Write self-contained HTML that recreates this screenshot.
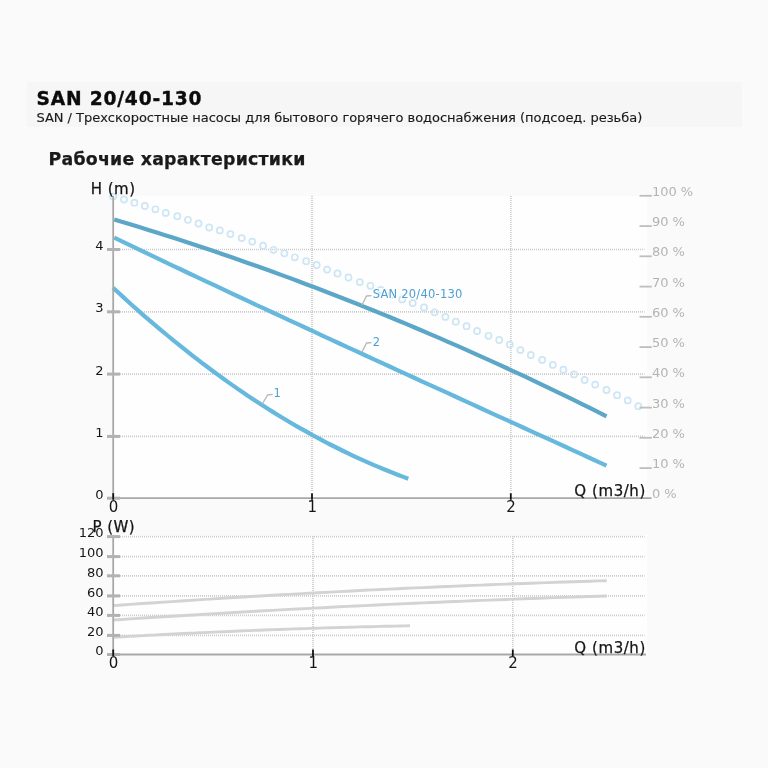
<!DOCTYPE html>
<html lang="ru">
<head>
<meta charset="utf-8">
<title>SAN 20/40-130</title>
<style>
html,body{margin:0;padding:0;}
body{width:768px;height:768px;background:#fafafa;position:relative;overflow:hidden;font-family:"DejaVu Sans", "Liberation Sans", sans-serif;color:#151515;}
.band{position:absolute;left:27px;top:82.4px;width:715px;height:44.8px;background:#f6f6f6;}
.t1{position:absolute;left:36.5px;top:87px;font-size:18.67px;line-height:24px;font-weight:bold;white-space:nowrap;letter-spacing:0.8px;color:#0c0c0c;-webkit-text-stroke:0.35px #0c0c0c;}
.t2{position:absolute;left:36.5px;top:110px;font-size:13px;line-height:16px;white-space:nowrap;color:#1a1a1a;letter-spacing:-0.03px;-webkit-text-stroke:0.15px #1a1a1a;}
.t3{position:absolute;left:48.5px;top:149.4px;font-size:17.33px;line-height:20px;font-weight:bold;white-space:nowrap;color:#1a1a1a;letter-spacing:0.25px;-webkit-text-stroke:0.25px #1a1a1a;}
</style>
</head>
<body>
<div class="band"></div>
<div class="t1" id="t1">SAN 20/40-130</div>
<div class="t2" id="t2">SAN / Трехскоростные насосы для бытового горячего водоснабжения (подсоед. резьба)</div>
<div class="t3" id="t3">Рабочие характеристики</div>
<svg width="768" height="768" viewBox="0 0 768 768" style="position:absolute;left:0;top:0">
<rect x="113" y="196" width="534" height="301.5" fill="#fefefe"/>
<rect x="113" y="535" width="534" height="119" fill="#fefefe"/>
<g stroke="#cbcbcb" stroke-width="1.7" stroke-dasharray="1 1" fill="none">
<line x1="120" y1="436.4" x2="644.6" y2="436.4"/>
<line x1="120" y1="374.1" x2="644.6" y2="374.1"/>
<line x1="120" y1="311.8" x2="644.6" y2="311.8"/>
<line x1="120" y1="249.5" x2="644.6" y2="249.5"/>
<line x1="312.0" y1="196" x2="312.0" y2="492"/>
<line x1="510.8" y1="196" x2="510.8" y2="492"/>
<line x1="120" y1="635.4" x2="644.6" y2="635.4"/>
<line x1="120" y1="615.4" x2="644.6" y2="615.4"/>
<line x1="120" y1="595.9" x2="644.6" y2="595.9"/>
<line x1="120" y1="575.8" x2="644.6" y2="575.8"/>
<line x1="120" y1="556.6" x2="644.6" y2="556.6"/>
<line x1="120" y1="536.6" x2="644.6" y2="536.6"/>
<line x1="313.0" y1="536" x2="313.0" y2="649"/>
<line x1="512.8" y1="536" x2="512.8" y2="649"/>
</g>
<g fill="none" stroke="#cde6f4" stroke-width="1.7">
<circle cx="113.1" cy="196.6" r="3.05"/>
<circle cx="124.0" cy="199.5" r="3.05"/>
<circle cx="134.4" cy="202.7" r="3.05"/>
<circle cx="144.8" cy="206.0" r="3.05"/>
<circle cx="155.4" cy="209.3" r="3.05"/>
<circle cx="165.8" cy="212.9" r="3.05"/>
<circle cx="177.3" cy="216.2" r="3.05"/>
<circle cx="187.9" cy="219.8" r="3.05"/>
<circle cx="198.5" cy="223.5" r="3.05"/>
<circle cx="209.2" cy="227.5" r="3.05"/>
<circle cx="219.8" cy="230.4" r="3.05"/>
<circle cx="230.4" cy="234.1" r="3.05"/>
<circle cx="241.7" cy="238.1" r="3.05"/>
<circle cx="252.3" cy="241.6" r="3.05"/>
<circle cx="263.1" cy="245.7" r="3.05"/>
<circle cx="273.5" cy="249.8" r="3.05"/>
<circle cx="284.4" cy="253.3" r="3.05"/>
<circle cx="294.8" cy="257.3" r="3.05"/>
<circle cx="306.2" cy="261.2" r="3.05"/>
<circle cx="316.7" cy="265.0" r="3.05"/>
<circle cx="327.1" cy="269.6" r="3.05"/>
<circle cx="337.5" cy="273.5" r="3.05"/>
<circle cx="348.5" cy="277.5" r="3.05"/>
<circle cx="359.8" cy="282.1" r="3.05"/>
<circle cx="370.4" cy="285.8" r="3.05"/>
<circle cx="380.8" cy="290.0" r="3.05"/>
<circle cx="391.5" cy="294.7" r="3.05"/>
<circle cx="402.1" cy="299.4" r="3.05"/>
<circle cx="412.7" cy="303.1" r="3.05"/>
<circle cx="424.0" cy="307.5" r="3.05"/>
<circle cx="434.6" cy="312.3" r="3.05"/>
<circle cx="445.4" cy="316.9" r="3.05"/>
<circle cx="455.8" cy="321.7" r="3.05"/>
<circle cx="466.5" cy="326.2" r="3.05"/>
<circle cx="477.1" cy="331.0" r="3.05"/>
<circle cx="488.5" cy="335.8" r="3.05"/>
<circle cx="499.2" cy="340.0" r="3.05"/>
<circle cx="509.8" cy="344.6" r="3.05"/>
<circle cx="520.4" cy="350.1" r="3.05"/>
<circle cx="530.8" cy="355.0" r="3.05"/>
<circle cx="542.2" cy="359.9" r="3.05"/>
<circle cx="552.8" cy="364.9" r="3.05"/>
<circle cx="563.4" cy="369.7" r="3.05"/>
<circle cx="574.0" cy="374.4" r="3.05"/>
<circle cx="584.6" cy="380.0" r="3.05"/>
<circle cx="595.2" cy="384.6" r="3.05"/>
<circle cx="606.5" cy="390.0" r="3.05"/>
<circle cx="617.1" cy="395.2" r="3.05"/>
<circle cx="627.7" cy="400.4" r="3.05"/>
<circle cx="638.3" cy="406.2" r="3.05"/>
</g>
<g fill="none" stroke="#d3d3d3" stroke-width="2.9" stroke-linecap="butt" stroke-linejoin="round">
<polyline points="113.5,605.6 121.9,605.0 130.2,604.4 138.6,603.8 146.9,603.3 155.3,602.7 163.7,602.1 172.0,601.6 180.4,601.0 188.7,600.5 197.1,599.9 205.5,599.4 213.8,598.9 222.2,598.3 230.5,597.8 238.9,597.3 247.2,596.8 255.6,596.3 264.0,595.8 272.3,595.3 280.7,594.8 289.0,594.4 297.4,593.9 305.8,593.4 314.1,593.0 322.5,592.5 330.8,592.1 339.2,591.6 347.6,591.2 355.9,590.8 364.3,590.3 372.6,589.9 381.0,589.5 389.4,589.1 397.7,588.7 406.1,588.3 414.4,587.9 422.8,587.6 431.2,587.2 439.5,586.8 447.9,586.5 456.2,586.1 464.6,585.7 473.0,585.4 481.3,585.1 489.7,584.7 498.0,584.4 506.4,584.1 514.7,583.8 523.1,583.5 531.5,583.2 539.8,582.9 548.2,582.6 556.5,582.3 564.9,582.0 573.3,581.7 581.6,581.5 590.0,581.2 598.3,580.9 606.7,580.7"/>
<polyline points="113.5,620.0 121.9,619.5 130.2,618.9 138.6,618.4 146.9,617.8 155.3,617.3 163.7,616.8 172.0,616.2 180.4,615.7 188.7,615.2 197.1,614.7 205.5,614.2 213.8,613.7 222.2,613.2 230.5,612.7 238.9,612.2 247.2,611.8 255.6,611.3 264.0,610.8 272.3,610.4 280.7,609.9 289.0,609.4 297.4,609.0 305.8,608.6 314.1,608.1 322.5,607.7 330.8,607.3 339.2,606.8 347.6,606.4 355.9,606.0 364.3,605.6 372.6,605.2 381.0,604.8 389.4,604.4 397.7,604.0 406.1,603.6 414.4,603.3 422.8,602.9 431.2,602.5 439.5,602.2 447.9,601.8 456.2,601.5 464.6,601.1 473.0,600.8 481.3,600.4 489.7,600.1 498.0,599.8 506.4,599.5 514.7,599.1 523.1,598.8 531.5,598.5 539.8,598.2 548.2,597.9 556.5,597.6 564.9,597.3 573.3,597.1 581.6,596.8 590.0,596.5 598.3,596.3 606.7,596.0"/>
<polyline points="113.5,637.3 118.5,637.0 123.6,636.7 128.6,636.4 133.6,636.2 138.6,635.9 143.7,635.6 148.7,635.3 153.7,635.1 158.7,634.8 163.8,634.5 168.8,634.3 173.8,634.0 178.8,633.8 183.9,633.5 188.9,633.3 193.9,633.1 198.9,632.8 204.0,632.6 209.0,632.4 214.0,632.1 219.0,631.9 224.1,631.7 229.1,631.5 234.1,631.2 239.1,631.0 244.2,630.8 249.2,630.6 254.2,630.4 259.2,630.2 264.3,630.0 269.3,629.8 274.3,629.6 279.3,629.5 284.4,629.3 289.4,629.1 294.4,628.9 299.4,628.8 304.5,628.6 309.5,628.4 314.5,628.3 319.5,628.1 324.6,627.9 329.6,627.8 334.6,627.6 339.6,627.5 344.7,627.4 349.7,627.2 354.7,627.1 359.7,626.9 364.8,626.8 369.8,626.7 374.8,626.6 379.8,626.4 384.9,626.3 389.9,626.2 394.9,626.1 399.9,626.0 405.0,625.9 410.0,625.8"/>
</g>
<polyline points="114.2,219.5 122.5,222.0 130.9,224.5 139.2,227.1 147.6,229.7 155.9,232.3 164.3,234.9 172.6,237.6 181.0,240.3 189.3,243.0 197.6,245.8 206.0,248.5 214.3,251.3 222.7,254.2 231.0,257.1 239.4,260.0 247.7,262.9 256.0,265.8 264.4,268.8 272.7,271.8 281.1,274.9 289.4,277.9 297.8,281.0 306.1,284.2 314.5,287.3 322.8,290.5 331.1,293.7 339.5,297.0 347.8,300.2 356.2,303.5 364.5,306.9 372.9,310.2 381.2,313.6 389.6,317.0 397.9,320.5 406.2,323.9 414.6,327.5 422.9,331.0 431.3,334.6 439.6,338.1 448.0,341.8 456.3,345.4 464.7,349.1 473.0,352.8 481.3,356.6 489.7,360.3 498.0,364.1 506.4,368.0 514.7,371.8 523.1,375.7 531.4,379.6 539.7,383.6 548.1,387.6 556.4,391.6 564.8,395.6 573.1,399.7 581.5,403.8 589.8,407.9 598.2,412.1 606.5,416.3" fill="none" stroke="#5ca7c7" stroke-width="4.2" stroke-linejoin="round"/>
<polyline points="114.2,237.7 122.5,241.7 130.9,245.7 139.2,249.7 147.6,253.7 155.9,257.6 164.3,261.6 172.6,265.6 181.0,269.5 189.3,273.5 197.6,277.4 206.0,281.3 214.3,285.2 222.7,289.2 231.0,293.1 239.4,297.0 247.7,300.9 256.0,304.8 264.4,308.7 272.7,312.5 281.1,316.4 289.4,320.3 297.8,324.2 306.1,328.0 314.5,331.9 322.8,335.8 331.1,339.6 339.5,343.5 347.8,347.3 356.2,351.1 364.5,355.0 372.9,358.8 381.2,362.7 389.6,366.5 397.9,370.3 406.2,374.1 414.6,378.0 422.9,381.8 431.3,385.6 439.6,389.4 448.0,393.2 456.3,397.0 464.7,400.9 473.0,404.7 481.3,408.5 489.7,412.3 498.0,416.1 506.4,419.9 514.7,423.7 523.1,427.5 531.4,431.3 539.7,435.1 548.1,438.9 556.4,442.7 564.8,446.5 573.1,450.3 581.5,454.2 589.8,458.0 598.2,461.8 606.5,465.6" fill="none" stroke="#66b8dc" stroke-width="4.2" stroke-linejoin="round"/>
<polyline points="113.0,287.7 118.0,292.3 123.0,296.9 128.0,301.5 133.0,306.0 138.0,310.4 143.0,314.8 148.0,319.1 153.0,323.4 158.0,327.7 163.1,331.9 168.1,336.0 173.1,340.2 178.1,344.2 183.1,348.2 188.1,352.2 193.1,356.1 198.1,359.9 203.1,363.8 208.1,367.5 213.1,371.2 218.1,374.9 223.1,378.5 228.1,382.1 233.1,385.6 238.1,389.1 243.1,392.5 248.1,395.9 253.1,399.2 258.1,402.5 263.2,405.8 268.2,409.0 273.2,412.1 278.2,415.2 283.2,418.2 288.2,421.2 293.2,424.2 298.2,427.1 303.2,429.9 308.2,432.7 313.2,435.5 318.2,438.2 323.2,440.8 328.2,443.5 333.2,446.0 338.2,448.5 343.2,451.0 348.2,453.4 353.2,455.8 358.2,458.1 363.3,460.4 368.3,462.6 373.3,464.8 378.3,466.9 383.3,469.0 388.3,471.0 393.3,473.0 398.3,475.0 403.3,476.9 408.3,478.7" fill="none" stroke="#66b8dc" stroke-width="4.2" stroke-linejoin="round"/>
<g stroke="#a8a8a8" stroke-width="1.8" fill="none">
<line x1="113.2" y1="196" x2="113.2" y2="499"/>
<line x1="113.2" y1="535.3" x2="113.2" y2="655.4"/>
<line x1="112.3" y1="498.2" x2="651.5" y2="498.2"/>
<line x1="112.3" y1="654.5" x2="646" y2="654.5"/>
</g>
<g stroke="#b2b2b2" stroke-width="3" fill="none">
<line x1="107" y1="498.2" x2="120" y2="498.2"/>
<line x1="107" y1="436.4" x2="120" y2="436.4"/>
<line x1="107" y1="374.1" x2="120" y2="374.1"/>
<line x1="107" y1="311.8" x2="120" y2="311.8"/>
<line x1="107" y1="249.5" x2="120" y2="249.5"/>
<line x1="107" y1="654.5" x2="120" y2="654.5"/>
<line x1="107" y1="635.4" x2="120" y2="635.4"/>
<line x1="107" y1="615.4" x2="120" y2="615.4"/>
<line x1="107" y1="595.9" x2="120" y2="595.9"/>
<line x1="107" y1="575.8" x2="120" y2="575.8"/>
<line x1="107" y1="556.6" x2="120" y2="556.6"/>
<line x1="107" y1="536.6" x2="120" y2="536.6"/>
</g>
<g stroke="#bebebe" stroke-width="1.8" fill="none">
<line x1="639.5" y1="468.1" x2="651.8" y2="468.1"/>
<line x1="639.5" y1="437.8" x2="651.8" y2="437.8"/>
<line x1="639.5" y1="407.6" x2="651.8" y2="407.6"/>
<line x1="639.5" y1="377.3" x2="651.8" y2="377.3"/>
<line x1="639.5" y1="347.1" x2="651.8" y2="347.1"/>
<line x1="639.5" y1="316.8" x2="651.8" y2="316.8"/>
<line x1="639.5" y1="286.6" x2="651.8" y2="286.6"/>
<line x1="639.5" y1="256.3" x2="651.8" y2="256.3"/>
<line x1="639.5" y1="226.1" x2="651.8" y2="226.1"/>
<line x1="639.5" y1="195.8" x2="651.8" y2="195.8"/>
</g>
<g stroke="#111" stroke-width="1.8" fill="none">
<line x1="113.2" y1="493.2" x2="113.2" y2="499.8"/>
<line x1="113.2" y1="649.5" x2="113.2" y2="656"/>
<line x1="312.0" y1="493.2" x2="312.0" y2="499.8"/>
<line x1="313.0" y1="649.5" x2="313.0" y2="656"/>
<line x1="510.8" y1="493.2" x2="510.8" y2="499.8"/>
<line x1="512.8" y1="649.5" x2="512.8" y2="656"/>
</g>
<g stroke="#b6b6b6" stroke-width="1.35" fill="none" stroke-linejoin="round">
<polyline points="362,305 366.5,296 371.5,295.7"/>
<polyline points="362,352 366.5,343 371.5,342.6"/>
<polyline points="262.3,404 267.5,395 272.7,394.4"/>
</g>
<g font-family='"DejaVu Sans", "Liberation Sans", sans-serif' fill="#151515">
<g font-size="13" text-anchor="end">
<text x="103.5" y="498.7">0</text>
<text x="103.5" y="436.9">1</text>
<text x="103.5" y="374.6">2</text>
<text x="103.5" y="312.3">3</text>
<text x="103.5" y="250.0">4</text>
<text x="103.5" y="655.3">0</text>
<text x="103.5" y="636.2">20</text>
<text x="103.5" y="616.2">40</text>
<text x="103.5" y="596.7">60</text>
<text x="103.5" y="576.6">80</text>
<text x="103.5" y="557.4">100</text>
<text x="103.5" y="537.4">120</text>
</g>
<g font-size="15" text-anchor="middle">
<text x="113.5" y="511.6">0</text>
<text x="113.5" y="667.8">0</text>
<text x="312.3" y="511.6">1</text>
<text x="313.3" y="667.8">1</text>
<text x="511.1" y="511.6">2</text>
<text x="513.1" y="667.8">2</text>
</g>
<g font-size="15" stroke="#151515" stroke-width="0.25">
<text x="90.8" y="193.6" textLength="44.2" lengthAdjust="spacing">H (m)</text>
<text x="92.5" y="532.4" textLength="42" lengthAdjust="spacing">P (W)</text>
<text x="574.3" y="496.3" textLength="71" lengthAdjust="spacing">Q (m3/h)</text>
<text x="574.3" y="652.6" textLength="71" lengthAdjust="spacing">Q (m3/h)</text>
</g>
</g>
<g font-family='"DejaVu Sans", "Liberation Sans", sans-serif' font-size="13" fill="#b4b4b4">
<text x="651.9" y="498.3">0 %</text>
<text x="651.9" y="468.1">10 %</text>
<text x="651.9" y="437.8">20 %</text>
<text x="651.9" y="407.6">30 %</text>
<text x="651.9" y="377.3">40 %</text>
<text x="651.9" y="347.1">50 %</text>
<text x="651.9" y="316.8">60 %</text>
<text x="651.9" y="286.6">70 %</text>
<text x="651.9" y="256.3">80 %</text>
<text x="651.9" y="226.1">90 %</text>
<text x="651.9" y="195.8">100 %</text>
</g>
<g font-family='"DejaVu Sans", "Liberation Sans", sans-serif' font-size="11.5" fill="#4c9fd2" stroke="#fefefe" stroke-width="2" paint-order="stroke" stroke-linejoin="round">
<text x="372.8" y="298.4" textLength="89.5" lengthAdjust="spacing">SAN 20/40-130</text>
<text x="372.8" y="345.6">2</text>
<text x="273.6" y="397.4">1</text>
</g>
</svg>
</body>
</html>
